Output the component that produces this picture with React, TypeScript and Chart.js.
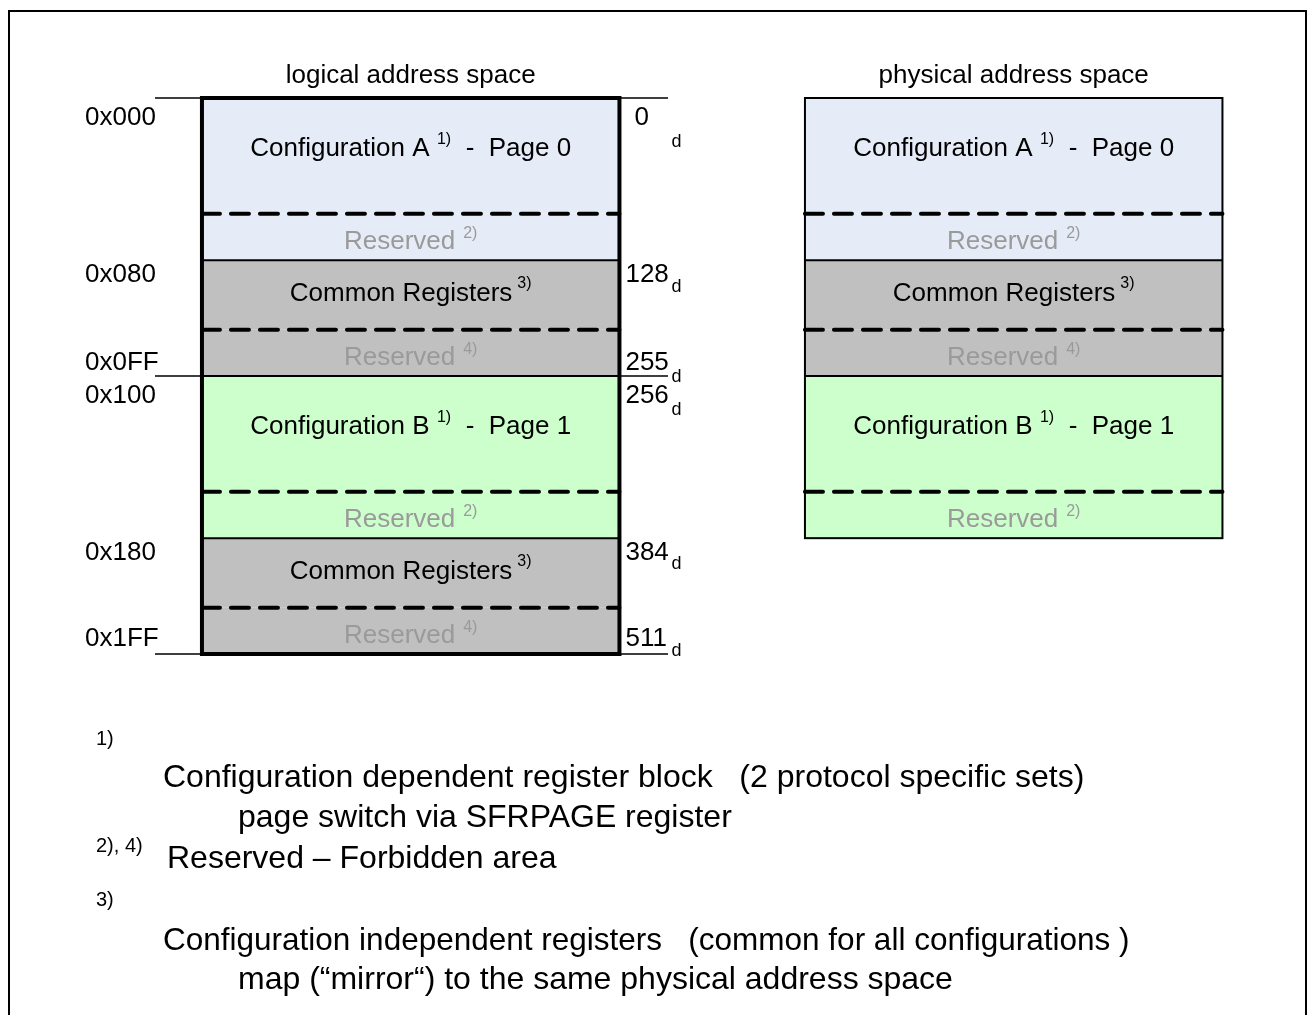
import React, { useEffect, useRef } from 'react';
import { Chart, registerables } from 'chart.js';

Chart.register(...registerables);

// ---- data ----
const columns = ['logical address space', 'physical address space'];
const segmentNames = ['Configuration A', 'Reserved', 'Common Registers', 'Reserved', 'Configuration B', 'Reserved', 'Common Registers', 'Reserved'];
const segmentNotes = ['1)', '2)', '3)', '4)', '1)', '2)', '3)', '4)'];
const segmentPages = ['Page 0', '', '', '', 'Page 1', '', '', ''];
const segmentKinds = ['config', 'reserved', 'common', 'reserved', 'config', 'reserved', 'common', 'reserved'];
const segmentGroups = ['A', 'A', 'C', 'C', 'B', 'B', 'C', 'C'];
// rows of the drawing (the diagram is not drawn to address scale)
const logicalStart = [0, 5, 7, 10, 12, 17, 19, 22];
const logicalEnd = [5, 7, 10, 12, 17, 19, 22, 24];
const physicalStart = [0, 5, 7, 10, 12, 17, null, null];
const physicalEnd = [5, 7, 10, 12, 17, 19, null, null];
const hexLabels = ['0x000', '0x080', '0x0FF', '0x100', '0x180', '0x1FF'];
const decLabels = ['0', '128', '255', '256', '384', '511'];
const addressRows = [0, 7, 12, 12, 19, 24];
const addressSides = ['start', 'start', 'end', 'start', 'start', 'end'];
const footnoteMarks = ['1)', '2), 4)', '3)'];
const footnoteLines = [
  'Configuration dependent register block   (2 protocol specific sets)',
  'page switch via SFRPAGE register',
  'Reserved \u2013 Forbidden area',
  'Configuration independent registers   (common for all configurations )',
  'map (\u201Cmirror\u201C) to the same physical address space',
];

// ---- style ----
const FONT = '"Liberation Sans", Arial, Helvetica, sans-serif';
const groupColors: Record<string, string> = { A: '#E6ECF7', B: '#CCFFCC', C: '#C0C0C0' };
const kindBaseline: Record<string, number> = { config: 58, reserved: 35, common: 41 };
const hexBaselineDy = [27, 22, -6, 27, 22, -8];
const decDx = [15, 6, 6, 6, 6, 6];
const subDy = [22, 10, 12, 12, 9, 10];
const markPos = [[96, 745], [96, 852], [96, 906]];
const linePos = [[163, 787], [238, 827], [167, 868], [163, 950], [238, 989]];
const lineSizes = [32, 32, 32, 31.5, 32];

type Part = { text: string; font: string; color?: string; dy?: number; gap?: number; w?: number };

function drawRich(ctx: CanvasRenderingContext2D, parts: Part[], cx: number, baseline: number) {
  let total = 0;
  parts.forEach((p) => {
    ctx.font = p.font;
    p.w = ctx.measureText(p.text).width;
    total += p.w + (p.gap || 0);
  });
  let x = cx - total / 2;
  ctx.textAlign = 'left';
  parts.forEach((p) => {
    ctx.font = p.font;
    ctx.fillStyle = p.color || '#000';
    ctx.fillText(p.text, x, baseline + (p.dy || 0));
    x += (p.w || 0) + (p.gap || 0);
  });
}

const diagramPlugin = {
  id: 'memoryDiagram',
  afterDatasetsDraw(chart: any) {
    const ctx: CanvasRenderingContext2D = chart.ctx;
    const xs = chart.scales.x;
    const ys = chart.scales.y;
    const yPix = (v: number) => ys.getPixelForValue(v);
    ctx.save();
    ctx.textBaseline = 'alphabetic';
    ctx.strokeStyle = '#000';
    let logicalLeft = 0;
    let logicalRight = 0;

    columns.forEach((title, col) => {
      const starts = col === 0 ? logicalStart : physicalStart;
      const ends = col === 0 ? logicalEnd : physicalEnd;
      const idx = starts.map((s, i) => (s == null ? -1 : i)).filter((i) => i >= 0);
      let left = 0;
      let right = 0;
      idx.forEach((i) => {
        const el = chart.getDatasetMeta(i).data[col];
        if (el) {
          left = el.x - el.width / 2;
          right = el.x + el.width / 2;
        }
      });
      if (col === 0) {
        logicalLeft = left;
        logicalRight = right;
      }
      const top = yPix(Math.min(...idx.map((i) => starts[i] as number)));
      const bottom = yPix(Math.max(...idx.map((i) => ends[i] as number)));

      // inner boundaries
      idx.forEach((i, n) => {
        if (n === 0) return;
        const y = yPix(starts[i] as number);
        ctx.beginPath();
        if (segmentGroups[i] === segmentGroups[i - 1]) {
          ctx.setLineDash([18, 11]);
          ctx.lineCap = 'round';
          ctx.lineWidth = 4;
        } else {
          ctx.setLineDash([]);
          ctx.lineCap = 'butt';
          ctx.lineWidth = 2;
        }
        ctx.moveTo(left, y);
        ctx.lineTo(right, y);
        ctx.stroke();
      });
      ctx.setLineDash([]);
      ctx.lineCap = 'butt';
      ctx.lineWidth = col === 0 ? 4 : 2;
      ctx.strokeRect(left, top, right - left, bottom - top);

      // segment texts
      const cx = (left + right) / 2;
      idx.forEach((i) => {
        const kind = segmentKinds[i];
        const base = yPix(starts[i] as number) + kindBaseline[kind];
        let parts: Part[];
        if (kind === 'config') {
          parts = [
            { text: segmentNames[i], font: `26px ${FONT}`, gap: 7.5 },
            { text: segmentNotes[i], font: `16px ${FONT}`, dy: -12 },
            { text: '  -  ' + segmentPages[i], font: `26px ${FONT}` },
          ];
        } else if (kind === 'common') {
          parts = [
            { text: segmentNames[i], font: `26px ${FONT}`, gap: 5 },
            { text: segmentNotes[i], font: `16px ${FONT}`, dy: -13 },
          ];
        } else {
          parts = [
            { text: segmentNames[i], font: `26px ${FONT}`, color: '#9a9a9a', gap: 8 },
            { text: segmentNotes[i], font: `16px ${FONT}`, color: '#9a9a9a', dy: -11 },
          ];
        }
        drawRich(ctx, parts, cx, base);
      });

      // column title
      ctx.font = `26px ${FONT}`;
      ctx.fillStyle = '#000';
      ctx.textAlign = 'center';
      ctx.fillText(title, xs.getPixelForValue(col), top - 15);
    });

    // address markers (logical space)
    ctx.lineWidth = 1.5;
    addressRows.forEach((row, k) => {
      const y = yPix(row);
      if (addressSides[k] === 'end' || k === 0) {
        ctx.beginPath();
        ctx.moveTo(155, y);
        ctx.lineTo(logicalLeft, y);
        ctx.moveTo(logicalRight, y);
        ctx.lineTo(668, y);
        ctx.stroke();
      }
      const base = y + hexBaselineDy[k];
      ctx.fillStyle = '#000';
      ctx.textAlign = 'left';
      ctx.font = `26px ${FONT}`;
      ctx.fillText(hexLabels[k], 85, base);
      ctx.fillText(decLabels[k], logicalRight + decDx[k], base);
      ctx.font = `18px ${FONT}`;
      ctx.fillText('d', logicalRight + 52, base + subDy[k]);
    });

    // footnotes
    ctx.textAlign = 'left';
    ctx.fillStyle = '#000';
    footnoteMarks.forEach((m, k) => {
      ctx.font = `20px ${FONT}`;
      ctx.fillText(m, markPos[k][0], markPos[k][1]);
    });
    footnoteLines.forEach((t, k) => {
      ctx.font = `${lineSizes[k]}px ${FONT}`;
      ctx.fillText(t, linePos[k][0], linePos[k][1]);
    });
    ctx.restore();
  },
};

export default function App() {
  const ref = useRef<HTMLCanvasElement>(null);
  useEffect(() => {
    const canvas = ref.current;
    if (!canvas) return;
    const datasets = segmentNames.map((name, i) => ({
      label: name,
      data: [
        [logicalStart[i], logicalEnd[i]],
        physicalStart[i] == null ? null : [physicalStart[i], physicalEnd[i]],
      ],
      backgroundColor: groupColors[segmentGroups[i]],
      borderWidth: 0,
      grouped: false,
      barPercentage: 417.5 / 603,
      categoryPercentage: 1,
      clip: false as const,
    }));
    const chart = new Chart(canvas, {
      type: 'bar',
      data: { labels: columns, datasets: datasets as any },
      options: {
        animation: false,
        responsive: false,
        devicePixelRatio: 1,
        events: [],
        layout: { padding: { left: 410.7, right: 1308 - 1013.7, top: 98, bottom: 1015 - 654 } },
        plugins: { legend: { display: false }, tooltip: { enabled: false }, title: { display: false } },
        scales: {
          x: { type: 'category', offset: false, display: false },
          y: { type: 'linear', reverse: true, min: 0, max: 24, display: false },
        },
      },
      plugins: [diagramPlugin],
    });
    return () => chart.destroy();
  }, []);

  return (
    <div style={{ position: 'fixed', left: 0, top: 0, width: 1308, height: 1015, background: '#fff', overflow: 'hidden' }}>
      <div
        style={{
          position: 'absolute',
          left: 8,
          top: 10,
          width: 1299,
          height: 1100,
          border: '2px solid #000',
          boxSizing: 'border-box',
        }}
      />
      <canvas ref={ref} width={1308} height={1015} style={{ position: 'absolute', left: 0, top: 0, width: 1308, height: 1015 }} />
    </div>
  );
}
